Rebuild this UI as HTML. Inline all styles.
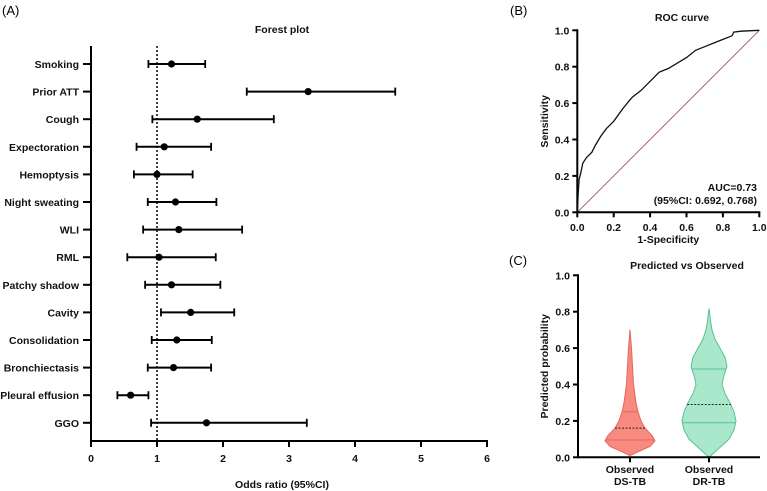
<!DOCTYPE html>
<html><head><meta charset="utf-8"><style>
body{margin:0;background:#fff;}
svg{display:block;font-family:"Liberation Sans",Arial,sans-serif;}
.b{font-weight:bold;font-size:10.5px;fill:#111;}
</style></head><body>
<svg id="s" width="767" height="491" viewBox="0 0 767 491">
<text x="2" y="15" font-size="13">(A)</text>
<text x="510" y="15" font-size="13">(B)</text>
<text x="509" y="265" font-size="13">(C)</text>
<g id="fp"></g>
<g id="roc"></g>
<g id="vio"></g>
</svg>
<script>
const NS='http://www.w3.org/2000/svg';
function mk(p,t,a,txt){const e=document.createElementNS(NS,t);for(const k in a)e.setAttribute(k,a[k]);if(txt!==undefined)e.textContent=txt;p.appendChild(e);return e;}

// Forest data
const fpLabels=["Smoking","Prior ATT","Cough","Expectoration","Hemoptysis","Night sweating","WLI","RML","Patchy shadow","Cavity","Consolidation","Bronchiectasis","Pleural effusion","GGO"];
const fpOR=[1.22,3.29,1.61,1.11,1.0,1.28,1.33,1.03,1.22,1.51,1.30,1.25,0.60,1.75];
const fpLo=[0.87,2.36,0.93,0.69,0.65,0.86,0.79,0.55,0.82,1.06,0.92,0.86,0.40,0.91];
const fpHi=[1.73,4.61,2.77,1.82,1.54,1.90,2.29,1.89,1.96,2.17,1.83,1.82,0.87,3.27];
const fpTicks=[0,1,2,3,4,5,6];

// ROC data
const rocFpr=[0,0.005,0.01,0.02,0.03,0.05,0.08,0.1,0.13,0.16,0.2,0.25,0.3,0.35,0.4,0.45,0.5,0.55,0.6,0.65,0.7,0.75,0.8,0.85,0.86,0.9,1];
const rocTpr=[0,0.1,0.18,0.22,0.27,0.3,0.33,0.37,0.42,0.46,0.5,0.57,0.63,0.67,0.72,0.77,0.79,0.82,0.85,0.89,0.91,0.93,0.95,0.97,0.99,0.995,1];
const unitTicks=[0,0.2,0.4,0.6,0.8,1.0];

// Violin data
const vCats=["DS-TB","DR-TB"];
const dsY=[0.01,0.03,0.06,0.09,0.12,0.16,0.2,0.25,0.3,0.4,0.5,0.6,0.7];
const dsW=[0,8,20,25,22,15,11,8,6,3.5,2.5,1.5,0];
const drY=[0.0,0.05,0.1,0.15,0.2,0.25,0.3,0.35,0.4,0.45,0.5,0.55,0.6,0.65,0.7,0.75,0.8,0.815];
const drW=[0,10,20,25,27,25,21,16,13,15,18,16,11,6,3,1.5,0.5,0];
const dsQ=[0.095,0.16,0.25];
const drQ=[0.19,0.29,0.485];

// ---- Forest
(function(){
const g=document.getElementById('fp');
const x=v=>91+v*66, y=i=>64+i*27.6;
mk(g,'text',{x:282,y:33,'text-anchor':'middle',class:'b',},'Forest plot');
mk(g,'line',{x1:91,y1:46,x2:91,y2:442,stroke:'#000','stroke-width':2,});
mk(g,'line',{x1:90,y1:441,x2:488,y2:441,stroke:'#000','stroke-width':2,});
mk(g,'line',{x1:x(1),y1:46,x2:x(1),y2:441,stroke:'#000','stroke-width':1.5,'stroke-dasharray':'2,2',});
fpTicks.forEach(t=>{mk(g,'line',{x1:x(t),y1:441,x2:x(t),y2:447,stroke:'#000','stroke-width':2,});
mk(g,'text',{x:x(t),y:462,'text-anchor':'middle',class:'b',},t);});
mk(g,'text',{x:282,y:488,'text-anchor':'middle',class:'b',},'Odds ratio (95%CI)');
fpLabels.forEach((l,i)=>{const yy=y(i);
mk(g,'line',{x1:83,y1:yy,x2:91,y2:yy,stroke:'#000','stroke-width':2,});
mk(g,'text',{x:79,y:yy+4,'text-anchor':'end',class:'b',},l);
mk(g,'line',{x1:x(fpLo[i]),y1:yy,x2:x(fpHi[i]),y2:yy,stroke:'#000','stroke-width':2,});
[fpLo[i],fpHi[i]].forEach(v=>mk(g,'line',{x1:x(v),y1:yy-4,x2:x(v),y2:yy+4,stroke:'#000','stroke-width':1.8,}));
mk(g,'circle',{cx:x(fpOR[i]),cy:yy,r:3.6,fill:'#000',});});
})();

// ---- ROC
(function(){
const g=document.getElementById('roc');
const x=v=>577.3+v*182, y=v=>212.3-v*182;
mk(g,'text',{x:682,y:21,'text-anchor':'middle',class:'b',},'ROC curve');
mk(g,'line',{x1:x(0),y1:y(0),x2:x(1),y2:y(1),stroke:'#a0675e','stroke-width':1,});
mk(g,'line',{x1:x(0),y1:y(1)-1,x2:x(0),y2:y(0)+1,stroke:'#000','stroke-width':2,});
mk(g,'line',{x1:x(0)-1,y1:y(0),x2:x(1)+1,y2:y(0),stroke:'#000','stroke-width':2,});
unitTicks.forEach(t=>{
mk(g,'line',{x1:x(t),y1:y(0),x2:x(t),y2:y(0)+5,stroke:'#000','stroke-width':2,});
mk(g,'text',{x:x(t),y:231,'text-anchor':'middle',class:'b',},t.toFixed(1));
mk(g,'line',{x1:x(0)-5,y1:y(t),x2:x(0),y2:y(t),stroke:'#000','stroke-width':2,});
mk(g,'text',{x:x(0)-8,y:y(t)+4,'text-anchor':'end',class:'b',},t.toFixed(1));});
mk(g,'text',{x:x(0.5),y:243,'text-anchor':'middle',class:'b',},'1-Specificity');
mk(g,'text',{x:0,y:0,transform:`translate(548,${y(0.5)}) rotate(-90)`,'text-anchor':'middle',class:'b',},'Sensitivity');
let d='';rocFpr.forEach((f,i)=>{d+=(i?'L':'M')+x(f).toFixed(1)+','+y(rocTpr[i]).toFixed(1);});
mk(g,'path',{d:d,fill:'none',stroke:'#111','stroke-width':1.3,});
mk(g,'text',{x:757,y:191,'text-anchor':'end',class:'b',},'AUC=0.73');
mk(g,'text',{x:757,y:204,'text-anchor':'end',class:'b',},'(95%CI: 0.692, 0.768)');
})();

// ---- Violin
(function(){
const g=document.getElementById('vio');
const y=v=>457.3-v*182, cx=[630,709];
mk(g,'text',{x:687,y:269,'text-anchor':'middle',class:'b',},'Predicted vs Observed');
const sets=[[dsY,dsW,dsQ,'#f98a80','#e0685e'],[drY,drW,drQ,'#a9e8cb','#5cbf98']];
sets.forEach((s,k)=>{const [ys,ws,qs,fill,st]=s;let d='';
ys.forEach((v,i)=>{d+=(i?'L':'M')+(cx[k]+ws[i]).toFixed(1)+','+y(v).toFixed(1);});
for(let i=ys.length-1;i>=0;i--)d+='L'+(cx[k]-ws[i]).toFixed(1)+','+y(ys[i]).toFixed(1);
mk(g,'path',{d:d+'Z',fill:fill,stroke:st,'stroke-width':1,'stroke-linejoin':'round',});
qs.forEach((q,j)=>{let w=0;for(let i=0;i<ys.length-1;i++){if(q>=ys[i]&&q<=ys[i+1]){w=ws[i]+(ws[i+1]-ws[i])*(q-ys[i])/(ys[i+1]-ys[i]);break;}}
mk(g,'line',{x1:cx[k]-w,y1:y(q),x2:cx[k]+w,y2:y(q),stroke:j==1?'#222':st,'stroke-width':1,'stroke-dasharray':j==1?'2,1.5':'none',});});
mk(g,'line',{x1:cx[k],y1:y(0),x2:cx[k],y2:y(0)+5,stroke:'#000','stroke-width':2,});
mk(g,'text',{x:cx[k],y:473,'text-anchor':'middle',class:'b',},'Observed');
mk(g,'text',{x:cx[k],y:485,'text-anchor':'middle',class:'b',},vCats[k]);});
mk(g,'line',{x1:578,y1:y(1)-1,x2:578,y2:y(0)+1,stroke:'#000','stroke-width':2,});
mk(g,'line',{x1:577,y1:y(0),x2:760,y2:y(0),stroke:'#000','stroke-width':2,});
unitTicks.forEach(t=>{
mk(g,'line',{x1:573,y1:y(t),x2:578,y2:y(t),stroke:'#000','stroke-width':2,});
mk(g,'text',{x:570,y:y(t)+4,'text-anchor':'end',class:'b',},t.toFixed(1));});
mk(g,'text',{x:0,y:0,transform:`translate(548,${y(0.5)}) rotate(-90)`,'text-anchor':'middle',class:'b',},'Predicted probability');
})();
</script>
</body></html>
